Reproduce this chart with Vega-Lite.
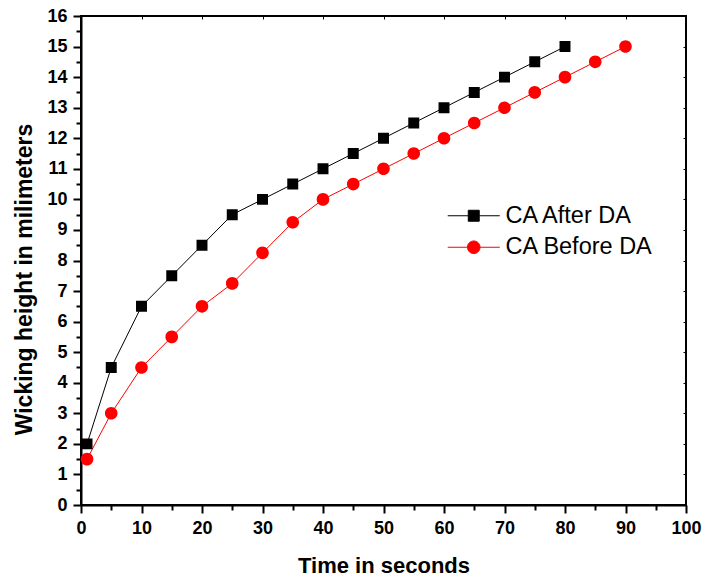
{
  "$schema": "https://vega.github.io/schema/vega-lite/v6.json",
  "width": 605,
  "height": 489,
  "autosize": {"type": "none"},
  "padding": {"left": 81, "top": 16, "right": 19, "bottom": 78},
  "background": "white",
  "config": {
    "view": {"stroke": "black", "strokeWidth": 2},
    "font": "Liberation Sans",
    "axis": {
      "labelFont": "Liberation Sans",
      "labelFontWeight": "bold",
      "labelFontSize": 18,
      "labelColor": "black",
      "titleFont": "Liberation Sans",
      "titleFontWeight": "bold",
      "titleFontSize": 22,
      "titleColor": "black",
      "domainColor": "black",
      "domainWidth": 2,
      "tickColor": "black",
      "tickWidth": 2,
      "grid": false
    },
    "legend": {
      "title": null,
      "orient": "none",
      "legendX": 381,
      "legendY": 188,
      "symbolSize": 120,
      "symbolStrokeWidth": 1,
      "labelFont": "Liberation Sans",
      "labelFontSize": 23.5,
      "labelColor": "black",
      "labelOffset": 20,
      "rowPadding": 6.5
    }
  },
  "data": {
    "values": [
      {"t": 1, "h": 2, "s": "CA After DA"},
      {"t": 5, "h": 4.5, "s": "CA After DA"},
      {"t": 10, "h": 6.5, "s": "CA After DA"},
      {"t": 15, "h": 7.5, "s": "CA After DA"},
      {"t": 20, "h": 8.5, "s": "CA After DA"},
      {"t": 25, "h": 9.5, "s": "CA After DA"},
      {"t": 30, "h": 10, "s": "CA After DA"},
      {"t": 35, "h": 10.5, "s": "CA After DA"},
      {"t": 40, "h": 11, "s": "CA After DA"},
      {"t": 45, "h": 11.5, "s": "CA After DA"},
      {"t": 50, "h": 12, "s": "CA After DA"},
      {"t": 55, "h": 12.5, "s": "CA After DA"},
      {"t": 60, "h": 13, "s": "CA After DA"},
      {"t": 65, "h": 13.5, "s": "CA After DA"},
      {"t": 70, "h": 14, "s": "CA After DA"},
      {"t": 75, "h": 14.5, "s": "CA After DA"},
      {"t": 80, "h": 15, "s": "CA After DA"},
      {"t": 1, "h": 1.5, "s": "CA Before DA"},
      {"t": 5, "h": 3, "s": "CA Before DA"},
      {"t": 10, "h": 4.5, "s": "CA Before DA"},
      {"t": 15, "h": 5.5, "s": "CA Before DA"},
      {"t": 20, "h": 6.5, "s": "CA Before DA"},
      {"t": 25, "h": 7.25, "s": "CA Before DA"},
      {"t": 30, "h": 8.25, "s": "CA Before DA"},
      {"t": 35, "h": 9.25, "s": "CA Before DA"},
      {"t": 40, "h": 10, "s": "CA Before DA"},
      {"t": 45, "h": 10.5, "s": "CA Before DA"},
      {"t": 50, "h": 11, "s": "CA Before DA"},
      {"t": 55, "h": 11.5, "s": "CA Before DA"},
      {"t": 60, "h": 12, "s": "CA Before DA"},
      {"t": 65, "h": 12.5, "s": "CA Before DA"},
      {"t": 70, "h": 13, "s": "CA Before DA"},
      {"t": 75, "h": 13.5, "s": "CA Before DA"},
      {"t": 80, "h": 14, "s": "CA Before DA"},
      {"t": 85, "h": 14.5, "s": "CA Before DA"},
      {"t": 90, "h": 15, "s": "CA Before DA"}
    ]
  },
  "resolve": {"axis": {"x": "independent", "y": "independent"}},
  "layer": [
    {
      "mark": {"type": "line", "strokeWidth": 1},
      "encoding": {
        "x": {
          "field": "t", "type": "quantitative",
          "scale": {"domain": [0, 100], "nice": false, "zero": false},
          "axis": {
            "title": "Time in seconds",
            "titlePadding": 18,
            "values": [0,5,10,15,20,25,30,35,40,45,50,55,60,65,70,75,80,85,90,95,100],
            "labelExpr": "datum.value % 10 === 0 ? datum.label : ''",
            "tickSize": {"condition": {"test": "datum.value % 10 === 0", "value": 8}, "value": 5},
            "labelPadding": 6,
            "labelFlush": false
          }
        },
        "y": {
          "field": "h", "type": "quantitative",
          "scale": {"domain": [0, 16], "nice": false},
          "axis": {
            "title": "Wicking height in milimeters",
            "titleFontSize": 23,
            "titlePadding": 10,
            "titleY": 263,
            "values": [0,0.5,1,1.5,2,2.5,3,3.5,4,4.5,5,5.5,6,6.5,7,7.5,8,8.5,9,9.5,10,10.5,11,11.5,12,12.5,13,13.5,14,14.5,15,15.5,16],
            "labelExpr": "datum.value % 1 === 0 ? format(datum.value, 'd') : ''",
            "tickSize": {"condition": {"test": "datum.value % 1 === 0", "value": 8}, "value": 5},
            "labelPadding": 6,
            "labelFlush": false
          }
        },
        "stroke": {
          "field": "s", "type": "nominal",
          "scale": {"domain": ["CA After DA", "CA Before DA"], "range": ["black", "#ff0000"]}
        }
      }
    },
    {
      "mark": {"type": "point", "filled": true, "opacity": 1, "size": 120},
      "encoding": {
        "x": {
          "field": "t", "type": "quantitative",
          "axis": {
            "orient": "top", "title": null, "labels": false, "domain": false,
            "values": [0,10,20,30,40,50,60,70,80,90,100],
            "tickSize": -3, "tickWidth": 1
          }
        },
        "y": {
          "field": "h", "type": "quantitative",
          "axis": {
            "orient": "right", "title": null, "labels": false, "domain": false,
            "values": [0,1,2,3,4,5,6,7,8,9,10,11,12,13,14,15,16],
            "tickSize": -3, "tickWidth": 1
          }
        },
        "fill": {
          "field": "s", "type": "nominal",
          "scale": {"domain": ["CA After DA", "CA Before DA"], "range": ["black", "#ff0000"]}
        },
        "shape": {
          "field": "s", "type": "nominal",
          "scale": {
            "domain": ["CA After DA", "CA Before DA"],
            "range": [
              "M-4.75,0H-1M1,0H4.75M-1,-1H1V1H-1Z",
              "M-4.75,0H-1.15M1.15,0H4.75M-1.15,0A1.15,1.15 0 1,0 1.15,0A1.15,1.15 0 1,0 -1.15,0Z"
            ]
          }
        }
      }
    }
  ]
}
